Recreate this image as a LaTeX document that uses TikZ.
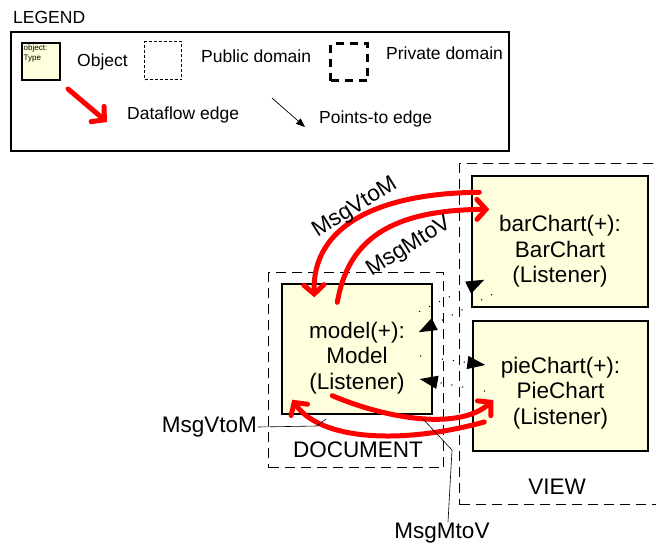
\documentclass[tikz,border=0pt]{standalone}
\usepackage{fontspec}
\setmainfont{Liberation Sans}
\usepackage{tikz}
\usetikzlibrary{arrows.meta, calc}

\definecolor{objyellow}{RGB}{255,255,221}
\definecolor{flowred}{RGB}{255,0,0}

\begin{document}
\begin{tikzpicture}[
  x=1pt, y=-1pt,
  font=\fontsize{22.5}{25.5}\selectfont,
  obj/.style={draw, fill=objyellow, line width=1.4pt, inner sep=0pt},
  objtxt/.style={align=center, inner sep=0pt},
  privdom/.style={draw, line width=1.2pt, dash pattern=on 10pt off 6pt},
  legtxt/.style={font=\fontsize{17.5}{20}\selectfont, inner sep=0pt, anchor=west},
  flow/.style={draw=flowred, line width=5pt, line cap=round,
    -{Straight Barb[length=9pt,width=20pt,line cap=round]}},
  pto/.style={draw, line width=1.5pt, line cap=round, dash pattern=on 0pt off 11pt,
    -{Triangle[length=18pt,width=13pt]}},
  leader/.style={draw, line width=0.6pt},
]
  \useasboundingbox (0,0) rectangle (656,550);

  % Legend
  \node[legtxt] (legtitle) at (13,17) {LEGEND};
  \node[draw, line width=2pt, minimum width=498pt, minimum height=119pt,
    anchor=north west] (legend) at (10,31) {};
  \node[obj, line width=1.5pt, minimum width=38pt, minimum height=37pt,
    anchor=north west] (legobj) at (21,42) {};
  \node[font=\fontsize{8}{10}\selectfont, inner sep=0pt, align=left,
    anchor=north west] (legobjtxt) at (23.5,44) {object:\\Type};
  \node[legtxt] (legobjname) at (77,62) {Object};
  \node[draw, line width=1.2pt, dash pattern=on 3pt off 2pt, minimum width=37pt,
    minimum height=38pt, anchor=north west] (legpub) at (144,41) {};
  \node[legtxt] (legpubname) at (201,56) {Public domain};
  \node[draw, line width=3pt, dash pattern=on 8pt off 6pt, minimum width=37pt,
    minimum height=37pt, anchor=north west] (legpriv) at (329,42) {};
  \node[legtxt] (legprivname) at (386,53) {Private domain};
  \coordinate (flowtail) at (68,89);
  \coordinate (flowtip) at (107,122);
  \draw[flow] (flowtail) -- (flowtip);
  \node[legtxt] (legflowname) at (127,115) {Dataflow edge};
  \coordinate (ptotail) at (272,98);
  \coordinate (ptotip) at (305,127);
  \draw[line width=0.7pt, -{Triangle[length=9pt,width=7pt]}] (ptotail) -- (ptotip);
  \node[legtxt] (legptoname) at (319,119) {Points-to edge};

  % Domains
  \node[privdom, minimum width=198pt, minimum height=341pt, anchor=north west]
    (view) at (459,163) {};
  \node (viewlbl) at (557,487) {VIEW};
  \node[privdom, minimum width=175pt, minimum height=195pt, anchor=north west]
    (doc) at (268,272) {};
  \node (doclbl) at (358,450) {DOCUMENT};

  % Objects
  \node[obj, minimum width=150pt, minimum height=130pt] (model) at (357,349) {};
  \node[objtxt] (modeltxt) at ($(model)+(0,9)$) {model(+):\\Model\\(Listener)};
  \node[obj, minimum width=176pt, minimum height=131pt] (bar) at (560,241.5) {};
  \node[objtxt] (bartxt) at ($(bar)+(0,10)$) {barChart(+):\\BarChart\\(Listener)};
  \node[obj, minimum width=175pt, minimum height=130pt] (pie) at (560.5,386) {};
  \node[objtxt] (pietxt) at ($(pie)+(0,7)$) {pieChart(+):\\PieChart\\(Listener)};

  % Points-to edges
  \draw[pto] ($(model.north east)+(-13,28)$) -- ($(bar.south west)+(13,-28)$);
  \draw[pto] ($(bar.south west)+(20,-13)$) -- ($(model.north east)+(-14,49)$);
  \draw[pto] ($(model.east)+(-12,7)$) -- ($(pie.west)+(13,-21)$);
  \draw[pto] ($(pie.west)+(12,5)$) -- ($(model.east)+(-13,30)$);

  % Dataflow edges
  \draw[flow] ($(bar.north west)+(8,17)$) .. controls (380,193) and (312,225)
    .. ($(model.north west)+(33,14)$);
  \draw[flow] ($(model.north west)+(56,19)$) .. controls (348,240) and (390,210)
    .. ($(bar.north west)+(18,34)$);
  \draw[flow] ($(model.south west)+(51,-19)$) .. controls (390,420) and (460,430)
    .. ($(pie.west)+(21,14)$);
  \draw[flow] ($(pie.west)+(12,36)$) .. controls (400,445) and (320,440)
    .. ($(model.south west)+(11,-15)$);

  % Edge labels
  \node[rotate=32] (vtomtop) at (355,208) {MsgVtoM};
  \node[rotate=32] (mtovtop) at (409,247) {MsgMtoV};
  \node[anchor=east, inner sep=1pt] (vtombot) at (258,427) {MsgVtoM};
  \node[anchor=north, inner sep=1pt] (mtovbot) at (442,522) {MsgMtoV};
  \coordinate (vtomfoot) at (326,419);
  \coordinate (mtovfoot) at (423,419);
  \draw[leader] (vtombot.east) -- (317,426) -- (vtomfoot);
  \draw[leader] (mtovbot.north) ++(6,0) -- (452,450) -- (mtovfoot);
\end{tikzpicture}
\end{document}
